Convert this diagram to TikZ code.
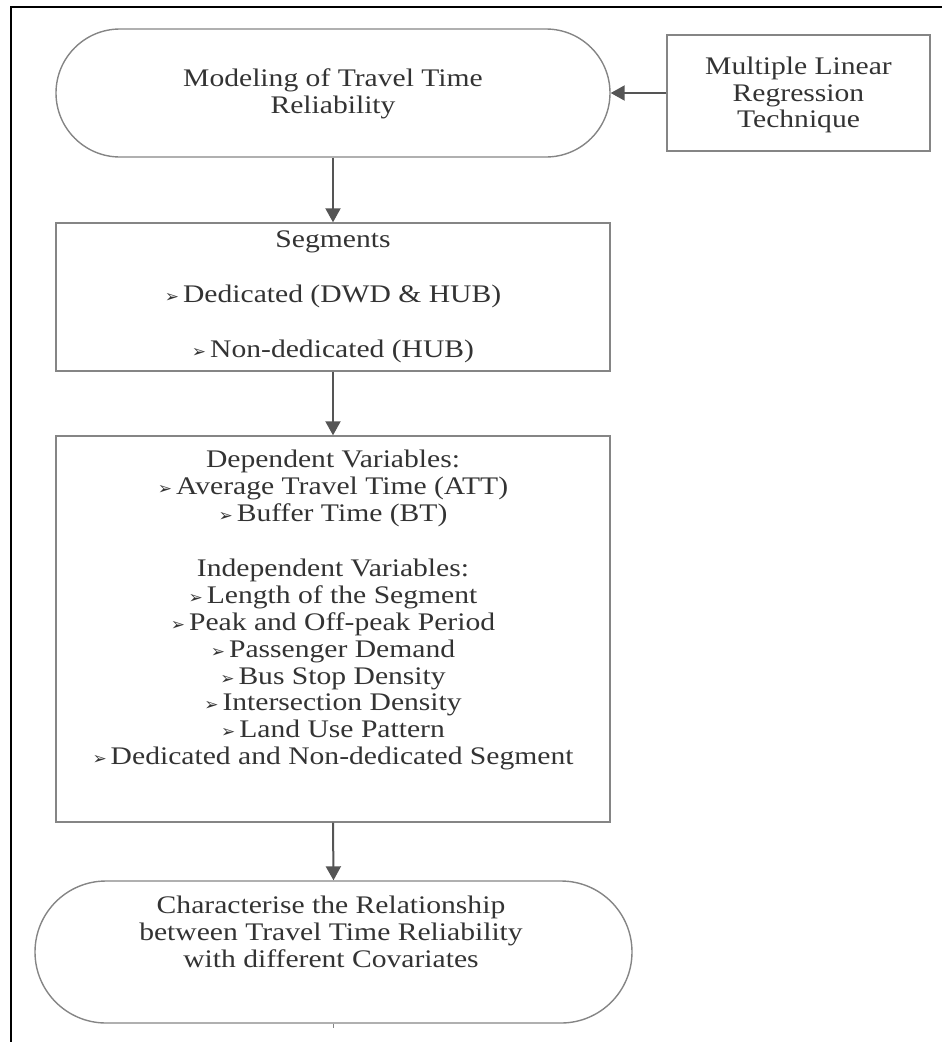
\documentclass[tikz,border=0pt]{standalone}
\usepackage{fontspec}
\setmainfont{Liberation Serif}[FakeStretch=1.17]
\newfontfamily\bulletfont{DejaVu Sans}
\usetikzlibrary{arrows.meta}
\definecolor{edgegray}{HTML}{858585}
\definecolor{arrowgray}{HTML}{555555}
\definecolor{inkgray}{HTML}{333333}
% small arrowhead bullet in front of list entries
\newcommand{\itm}{{\bulletfont\fontsize{17}{17}\selectfont ➢}\hspace{4pt}}
\begin{document}
\begin{tikzpicture}[x=1pt,y=-1pt,
  txt/.style={font=\fontsize{25.3}{26.8}\selectfont, text=inkgray, align=center, inner sep=0pt},
  terminal/.style={draw=edgegray, line width=1.4pt, rounded corners=#1, inner sep=0pt},
  stepbox/.style={draw=edgegray, line width=1.4pt, inner sep=0pt},
  flow/.style={draw=arrowgray, line width=2pt, -{Triangle[width=15pt,length=14pt]}}]
\useasboundingbox (0,0) rectangle (942,1042);
% outer frame (top and left edges)
\draw[black, line width=2.5pt] (11,1042) -- (11,7) -- (942,7);

% top terminator
\node[terminal=64pt, minimum width=554pt, minimum height=128pt] (model) at (333,93) {};
\node[txt] (modeltext) at (333,93.5) {Modeling of Travel Time\\Reliability};

% technique box
\node[stepbox, minimum width=263pt, minimum height=116pt] (mlr) at (798.5,93) {};
\node[txt] (mlrtext) at (798.5,95) {Multiple Linear\\Regression\\Technique};

% segments box
\node[stepbox, minimum width=554pt, minimum height=148pt] (seg) at (333,297) {};
\node[txt] (segtext) at (333,297) {Segments\\[28.2pt]\itm Dedicated (DWD \& HUB)\\[28.2pt]\itm Non-dedicated (HUB)};

% variables box
\node[stepbox, minimum width=554pt, minimum height=386pt] (vars) at (333,629) {};
\node[txt] (varstext) at (333,610) {Dependent Variables:\\
\itm Average Travel Time (ATT)\\
\itm Buffer Time (BT)\\[29pt]
Independent Variables:\\
\itm Length of the Segment\\
\itm Peak and Off-peak Period\\
\itm Passenger Demand\\
\itm Bus Stop Density\\
\itm Intersection Density\\
\itm Land Use Pattern\\
\itm Dedicated and Non-dedicated Segment};

% final terminator
\node[terminal=71pt, minimum width=597pt, minimum height=142pt] (result) at (333.5,952) {};
\node[txt] (resulttext) at (331,932) {Characterise the Relationship\\between Travel Time Reliability\\with different Covariates};

% connectors
\draw[flow] (mlr.west) -- (model.east);
\draw[flow] (model.south) -- (seg.north);
\draw[flow] (seg.south) -- (vars.north);
\draw[flow] (vars.south) -- (result.north);
\draw[edgegray, line width=0.8pt] (result.south) -- ++(0,4);
\end{tikzpicture}
\end{document}
